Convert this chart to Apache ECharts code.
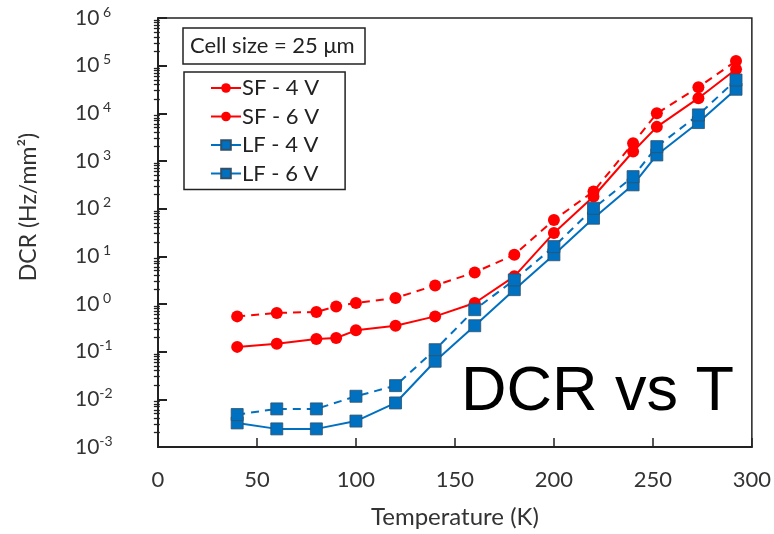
<!DOCTYPE html>
<html>
<head>
<meta charset="utf-8">
<script src="https://cdn.jsdelivr.net/npm/echarts@6/dist/echarts.min.js"></script>
<style>
html,body{margin:0;padding:0;background:#fff;}
#chart{width:774px;height:534px;}
</style>
</head>
<body>
<div id="chart"></div>
<script>
// Temperatures (K)
var tempSF = [40, 60, 80, 90, 100, 120, 140, 160, 180, 200, 220, 240, 252, 273, 292];
var tempLF = [40, 60, 80, 100, 120, 140, 160, 180, 200, 220, 240, 252, 273, 292];
// DCR values (Hz/mm^2)
var sf4V = [0.126, 0.147, 0.185, 0.194, 0.28, 0.35, 0.55, 1.05, 3.8, 31, 180, 1580, 5200, 20800, 84000];
var sf6V = [0.55, 0.65, 0.68, 0.89, 1.05, 1.34, 2.45, 4.6, 10.8, 58, 230, 2370, 10000, 35300, 125000];
var lf4V = [0.0032, 0.0024, 0.0024, 0.0035, 0.0084, 0.063, 0.35, 2.0, 10.8, 63, 316, 1340, 6400, 32000];
var lf6V = [0.0048, 0.0063, 0.0063, 0.0116, 0.0194, 0.11, 0.76, 3.2, 16, 102, 470, 2000, 9270, 50000];
var seriesNames = ['SF - 4 V', 'SF - 6 V', 'LF - 4 V', 'LF - 6 V'];
var xTicks = [0, 50, 100, 150, 200, 250, 300];
var yMin = 0.001, yMax = 1000000;
var decadeMin = -3, decadeMax = 6;

function pairs(xs, ys){ return xs.map(function(x,i){ return [x, ys[i]]; }); }
// log-spaced minor tick positions (2..9 x 10^e), expressed as exponents for a linear overlay axis
var minorExp = [];
for (var e = decadeMin; e < decadeMax; e++) { for (var k = 2; k <= 9; k++) { minorExp.push(e + Math.log10(k)); } }

var FONT = 'Lato';
var RED = '#ff0000', BLUE = '#0070c0';
var GRID_LEFT = 158, GRID_RIGHT = 18, W = 774;

var chart = echarts.init(document.getElementById('chart'), null, {renderer:'canvas'});
function mk(name, xs, ys, color, symbol, dashed){
  return {
    name: name, type: 'line', data: pairs(xs, ys), yAxisIndex: 0,
    symbol: symbol, symbolSize: 12,
    lineStyle: {color: color, width: 2, type: dashed ? [8,6] : 'solid'},
    itemStyle: {color: color, borderColor: symbol === 'rect' ? '#30506a' : color, borderWidth: symbol === 'rect' ? 0.8 : 0},
    emphasis: {disabled: true},
    z: 3
  };
}
chart.setOption({
  animation: false,
  backgroundColor: '#fff',
  title: [{
    text: 'Cell size = 25 μm', left: 183, top: 28,
    borderColor: '#222', borderWidth: 1.5, padding: [7, 11, 7, 7],
    textStyle: {fontFamily: FONT, fontSize: 22, fontWeight: 'normal', color: '#222'}
  }, {
    text: 'DCR vs T', left: 461, top: 361, padding: 0,
    textStyle: {fontFamily: 'Liberation Sans', fontSize: 63, fontWeight: 'normal', color: '#000'}
  }],
  legend: {
    data: seriesNames, orient: 'vertical', left: 184, top: 72,
    padding: [5, 26, 5, 26],
    borderColor: '#222', borderWidth: 1.5,
    itemWidth: 30, itemHeight: 12, itemGap: 6.5,
    lineStyle: {type: 'solid'},
    textStyle: {fontFamily: FONT, fontSize: 22, color: '#222', padding: [0,0,0,-4]},
    selectedMode: false
  },
  graphic: [{
    type: 'text', x: 29, y: 207, rotation: Math.PI / 2,
    style: {text: 'DCR (Hz/mm²)', fontFamily: FONT, fontSize: 23, fill: '#333', align: 'center', verticalAlign: 'middle'}
  }],
  grid: {left: GRID_LEFT, right: GRID_RIGHT, top: 18, bottom: 86, show: true, borderColor: '#222', borderWidth: 1.5, backgroundColor: 'transparent'},
  xAxis: {
    type: 'value', min: 0, max: 300, interval: 50,
    name: 'Temperature (K)', nameLocation: 'middle', nameGap: 58,
    nameTextStyle: {fontFamily: FONT, fontSize: 24, color: '#333'},
    axisLine: {show: true, onZero: false, lineStyle: {color: '#222', width: 2}},
    axisTick: {show: true, inside: true, length: 9, lineStyle: {color: '#222', width: 1.5}},
    axisLabel: {fontFamily: FONT, fontSize: 22, color: '#333', margin: 22,
      formatter: function(v){ return xTicks.indexOf(v) >= 0 ? String(v) : ''; }},
    splitLine: {show: false}
  },
  yAxis: [{
    type: 'log', logBase: 10, min: yMin, max: yMax, interval: 1,
    axisLine: {show: true, onZero: false, lineStyle: {color: '#222', width: 2}},
    axisTick: {show: true, inside: true, length: 9, lineStyle: {color: '#222', width: 2}},
    axisLabel: {
      margin: 83, align: 'left',
      formatter: function(v){
        var e = Math.round(Math.log10(v));
        return '{b|10}{s|' + (e >= 0 ? ' ' + e : String(e)) + '}';
      },
      rich: {
        b: {fontFamily: FONT, fontSize: 21, color: '#333', lineHeight: 26},
        s: {fontFamily: FONT, fontSize: 14, color: '#333', lineHeight: 14, verticalAlign: 'top'}
      }
    },
    splitLine: {show: false}
  }, {
    // overlay axis carrying only the log-spaced minor ticks, moved onto the left edge
    type: 'value', min: decadeMin, max: decadeMax, position: 'right',
    offset: -(W - GRID_LEFT - GRID_RIGHT),
    axisLine: {show: false, onZero: false},
    axisTick: {show: true, inside: false, length: 6, customValues: minorExp, lineStyle: {color: '#222', width: 1.3}},
    axisLabel: {show: false},
    splitLine: {show: false}
  }],
  series: [
    mk(seriesNames[0], tempSF, sf4V, RED, 'circle', false),
    mk(seriesNames[1], tempSF, sf6V, RED, 'circle', true),
    mk(seriesNames[2], tempLF, lf4V, BLUE, 'rect', false),
    mk(seriesNames[3], tempLF, lf6V, BLUE, 'rect', true)
  ]
});
</script>
</body>
</html>
